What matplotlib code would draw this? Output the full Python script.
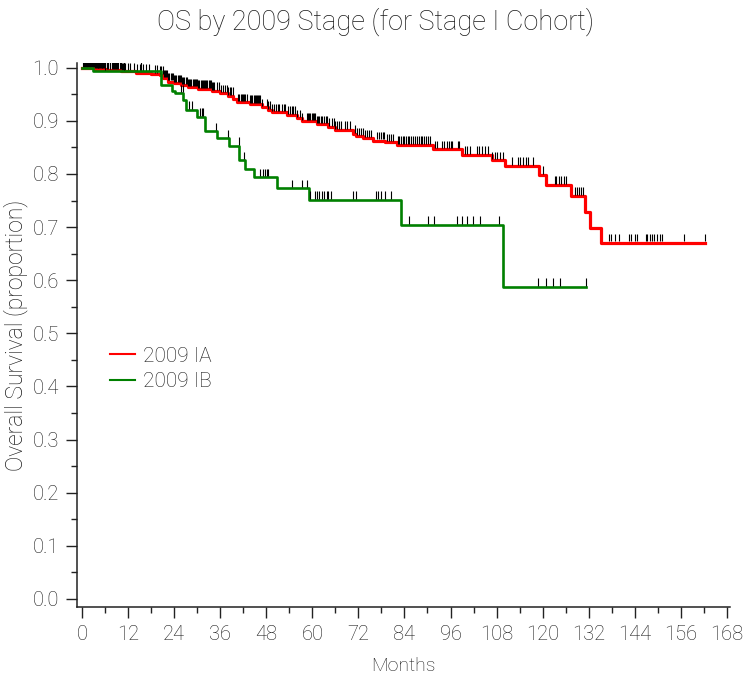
import numpy as np
import matplotlib
matplotlib.use('Agg')
import matplotlib.pyplot as plt
from matplotlib.ticker import MultipleLocator

### Data ###

# 2009 IA: step times (months) and survival after each drop
ia_times = [0, 3.3, 6.5, 10.2, 14.0, 18.0, 20.2, 21.1, 22.4, 24.0, 25.9, 27.6, 30.2,
            33.8, 35.9, 38.1, 39.4, 40.3, 43.75, 46.8, 48.5, 49.4, 53.3, 55.9, 57.2,
            61.1, 64.1, 65.9, 70.7, 71.5, 73.3, 75.9, 78.9, 82.0, 91.5, 98.9, 106.7,
            110.2, 119.1, 121.0, 127.3, 131.0, 132.3, 135.3]
ia_surv = [1.0, 0.998, 0.996, 0.993, 0.991, 0.989, 0.987, 0.980, 0.974, 0.971, 0.967,
           0.9636, 0.960, 0.957, 0.952, 0.947, 0.941, 0.935, 0.932, 0.926, 0.921, 0.9165,
           0.9115, 0.905, 0.899, 0.894, 0.889, 0.883, 0.876, 0.871, 0.8676, 0.863,
           0.8594, 0.855, 0.8469, 0.836, 0.8255, 0.8154, 0.7985, 0.7797, 0.759, 0.728,
           0.698, 0.671]
ia_end = 162.2

# 2009 IA censored times
ia_cens = [0.2, 0.4, 0.6, 0.8, 1.0, 1.2, 1.4, 1.6, 1.8, 2.0, 2.2, 2.4, 2.6, 2.8, 3.0, 3.2,
           3.5, 3.7, 3.9, 4.1, 4.3, 4.5, 4.7, 4.9, 5.1, 5.3, 5.5,
           5.8, 6.1, 6.4, 6.6, 6.9, 7.2, 7.4, 7.7, 8.0, 8.3, 8.6, 8.9, 9.2, 9.5, 9.8,
           10.1, 10.4, 10.7,
           11.3, 12.0, 12.6, 13.5, 14.3, 15.2, 15.8, 16.8, 17.5, 18.9, 19.6,
           20.4, 20.7, 21.0, 21.3, 21.6, 21.9, 22.2, 22.5, 22.8, 23.1, 23.4, 23.7, 24.0,
           24.3, 24.6, 24.9, 25.2, 25.5, 25.8, 26.1, 26.4, 26.7, 27.0, 27.3, 27.6, 27.9,
           28.2, 28.5, 28.8, 29.1, 29.4, 29.7, 30.0, 30.3, 30.6, 30.9, 31.2, 31.5, 31.8,
           32.1, 32.4, 32.7,
           33.0, 33.3, 33.6, 33.9, 34.2, 34.5, 35.1, 35.6, 36.2, 36.8, 37.3, 37.7, 38.1,
           38.5, 38.9, 39.3, 40.7, 41.0, 41.3, 41.6, 41.9, 42.2, 42.5, 43.1, 43.8, 44.1,
           44.4, 44.7, 45.0, 45.3, 45.6, 45.9, 46.2, 46.5, 46.8, 48.1, 48.5, 48.9, 49.4,
           49.9, 50.5, 51.0, 51.4, 52.0, 52.5, 53.0, 53.7, 54.2, 54.6, 55.1, 55.5, 55.9,
           56.8, 57.4, 58.6, 58.9, 59.2, 59.5, 59.8, 60.1, 60.4, 60.8, 61.1, 61.5, 61.8,
           62.2, 62.6, 63.1, 63.5, 63.9, 64.4,
           65.1, 65.6, 66.0, 66.5, 67.0, 67.5, 68.6, 69.1, 69.7, 71.2, 71.6, 72.1, 72.6,
           73.1, 73.6, 74.2, 74.8, 75.3, 76.8, 77.3, 77.8, 78.4, 78.8, 79.4, 79.9, 80.5,
           81.0, 82.3, 82.7, 83.1, 83.6, 84.0, 84.4, 84.9, 85.3, 85.8, 86.3, 86.7, 87.2,
           87.7, 88.2, 88.7, 89.2, 89.7, 90.2, 90.6, 92.0, 92.5,
           93.7, 94.3, 95.1, 95.6, 96.0, 96.5, 98.0, 98.3, 99.7, 100.2, 101.0, 102.8,
           103.5, 104.1, 105.0, 105.8, 106.7, 107.6, 108.2, 108.9, 109.6, 111.9, 113.6,
           114.1, 114.9, 115.6, 116.2, 117.4, 120.1, 123.2, 123.6, 124.3, 124.9, 125.5,
           126.2, 128.4, 128.9, 129.5, 130.0, 130.4,
           137.3, 137.9, 138.8, 139.9, 142.5, 143.1, 144.0, 144.7, 146.9, 147.3, 147.9,
           148.4, 149.0, 149.7, 150.5, 151.2, 156.8, 162.2]

# 2009 IB
ib_times = [0, 2.9, 20.6, 23.4, 24.2, 26.4, 27.1, 29.9, 32.0, 35.1, 38.4, 41.0, 42.4,
            44.8, 50.9, 59.1, 83.0, 109.7]
ib_surv = [1.0, 0.994, 0.968, 0.957, 0.952, 0.940, 0.921, 0.908, 0.880, 0.8675, 0.853,
           0.8255, 0.809, 0.794, 0.7735, 0.7514, 0.7043, 0.588]
ib_end = 131.2

ib_cens = [6.0, 11.0, 15.5, 25.7, 26.2, 27.9, 28.6, 30.7, 31.2, 31.6, 34.8, 38.1, 40.8,
           42.2, 46.4, 47.2, 47.7, 48.1, 48.5, 54.6, 57.2, 58.7,
           59.4, 60.7, 61.3, 61.8, 62.4, 63.0, 63.7, 64.2, 64.8, 70.5, 71.4, 76.6, 77.2,
           78.0, 78.9, 80.5,
           85.2, 90.2, 91.7, 97.6, 99.0, 100.4, 101.9, 103.6, 108.6,
           118.7, 121.0, 122.6, 124.5, 131.2]

xticks = list(range(0, 169, 12))
yticks = [0.0, 0.1, 0.2, 0.3, 0.4, 0.5, 0.6, 0.7, 0.8, 0.9, 1.0]


### Figure ###

plt.rcParams['font.family'] = ['Roboto', 'DejaVu Sans']
plt.rcParams['font.weight'] = 'light'
plt.rcParams['axes.titleweight'] = 'light'
plt.rcParams['axes.labelweight'] = 'light'
txt = '#1a1a1a'

fig = plt.figure(figsize=(7.51, 6.8), dpi=100)
ax = fig.add_axes([0.1025, 0.1074, 0.8695, 0.8])


def surv_at(times, surv, t):
    # value of the step curve at censor time t
    idx = np.searchsorted(times, t, side='right') - 1
    return np.array(surv)[idx]


def draw_group(times, surv, end, cens, color, lw, label, z):
    xs = list(times) + [end]
    ys = list(surv) + [surv[-1]]
    ax.step(xs, ys, where='post', color=color, lw=lw, label=label, zorder=z)
    cs = np.array(cens)
    lev = surv_at(times, surv, cs)
    ax.vlines(cs, lev + 0.002, lev + 0.016, color='black', lw=0.8, zorder=z + 1)


draw_group(ia_times, ia_surv, ia_end, ia_cens, '#ff0000', 2.3, '2009 IA', 2)
draw_group(ib_times, ib_surv, ib_end, ib_cens, '#008000', 1.9, '2009 IB', 4)

ax.set_xlim(-1.3, 168.8)
ax.set_ylim(-0.015, 1.009)
ax.set_xticks(xticks)
ax.set_yticks(yticks)
ax.set_yticklabels(['%.1f' % v for v in yticks])
ax.xaxis.set_minor_locator(MultipleLocator(6))
ax.yaxis.set_minor_locator(MultipleLocator(0.05))

for side in ['top', 'right']:
    ax.spines[side].set_visible(False)
for side in ['left', 'bottom']:
    ax.spines[side].set_linewidth(1.1)
    ax.spines[side].set_color('#222222')

ax.tick_params(which='major', direction='out', length=8, width=1.0, color='#222222',
               labelsize=14.5, labelcolor=txt, pad=5)
ax.tick_params(which='minor', direction='out', length=4, width=1.0, color='#222222')

ax.set_xlabel('Months', fontsize=14, color=txt, labelpad=9)
ax.set_ylabel('Overall Survival (proportion)', fontsize=16.5, color=txt, labelpad=3)
fig.text(0.5, 0.968, 'OS by 2009 Stage (for Stage I Cohort)', fontsize=19.5, color=txt,
         ha='center', va='center')

leg = ax.legend(loc='upper left', bbox_to_anchor=(0.022, 0.513), frameon=False,
                fontsize=15, handlelength=1.2, handletextpad=0.4, labelspacing=0.3)
for t in leg.get_texts():
    t.set_color(txt)
for h in leg.get_lines():
    h.set_linewidth(1.5)

plt.savefig('out.png', dpi=100)
